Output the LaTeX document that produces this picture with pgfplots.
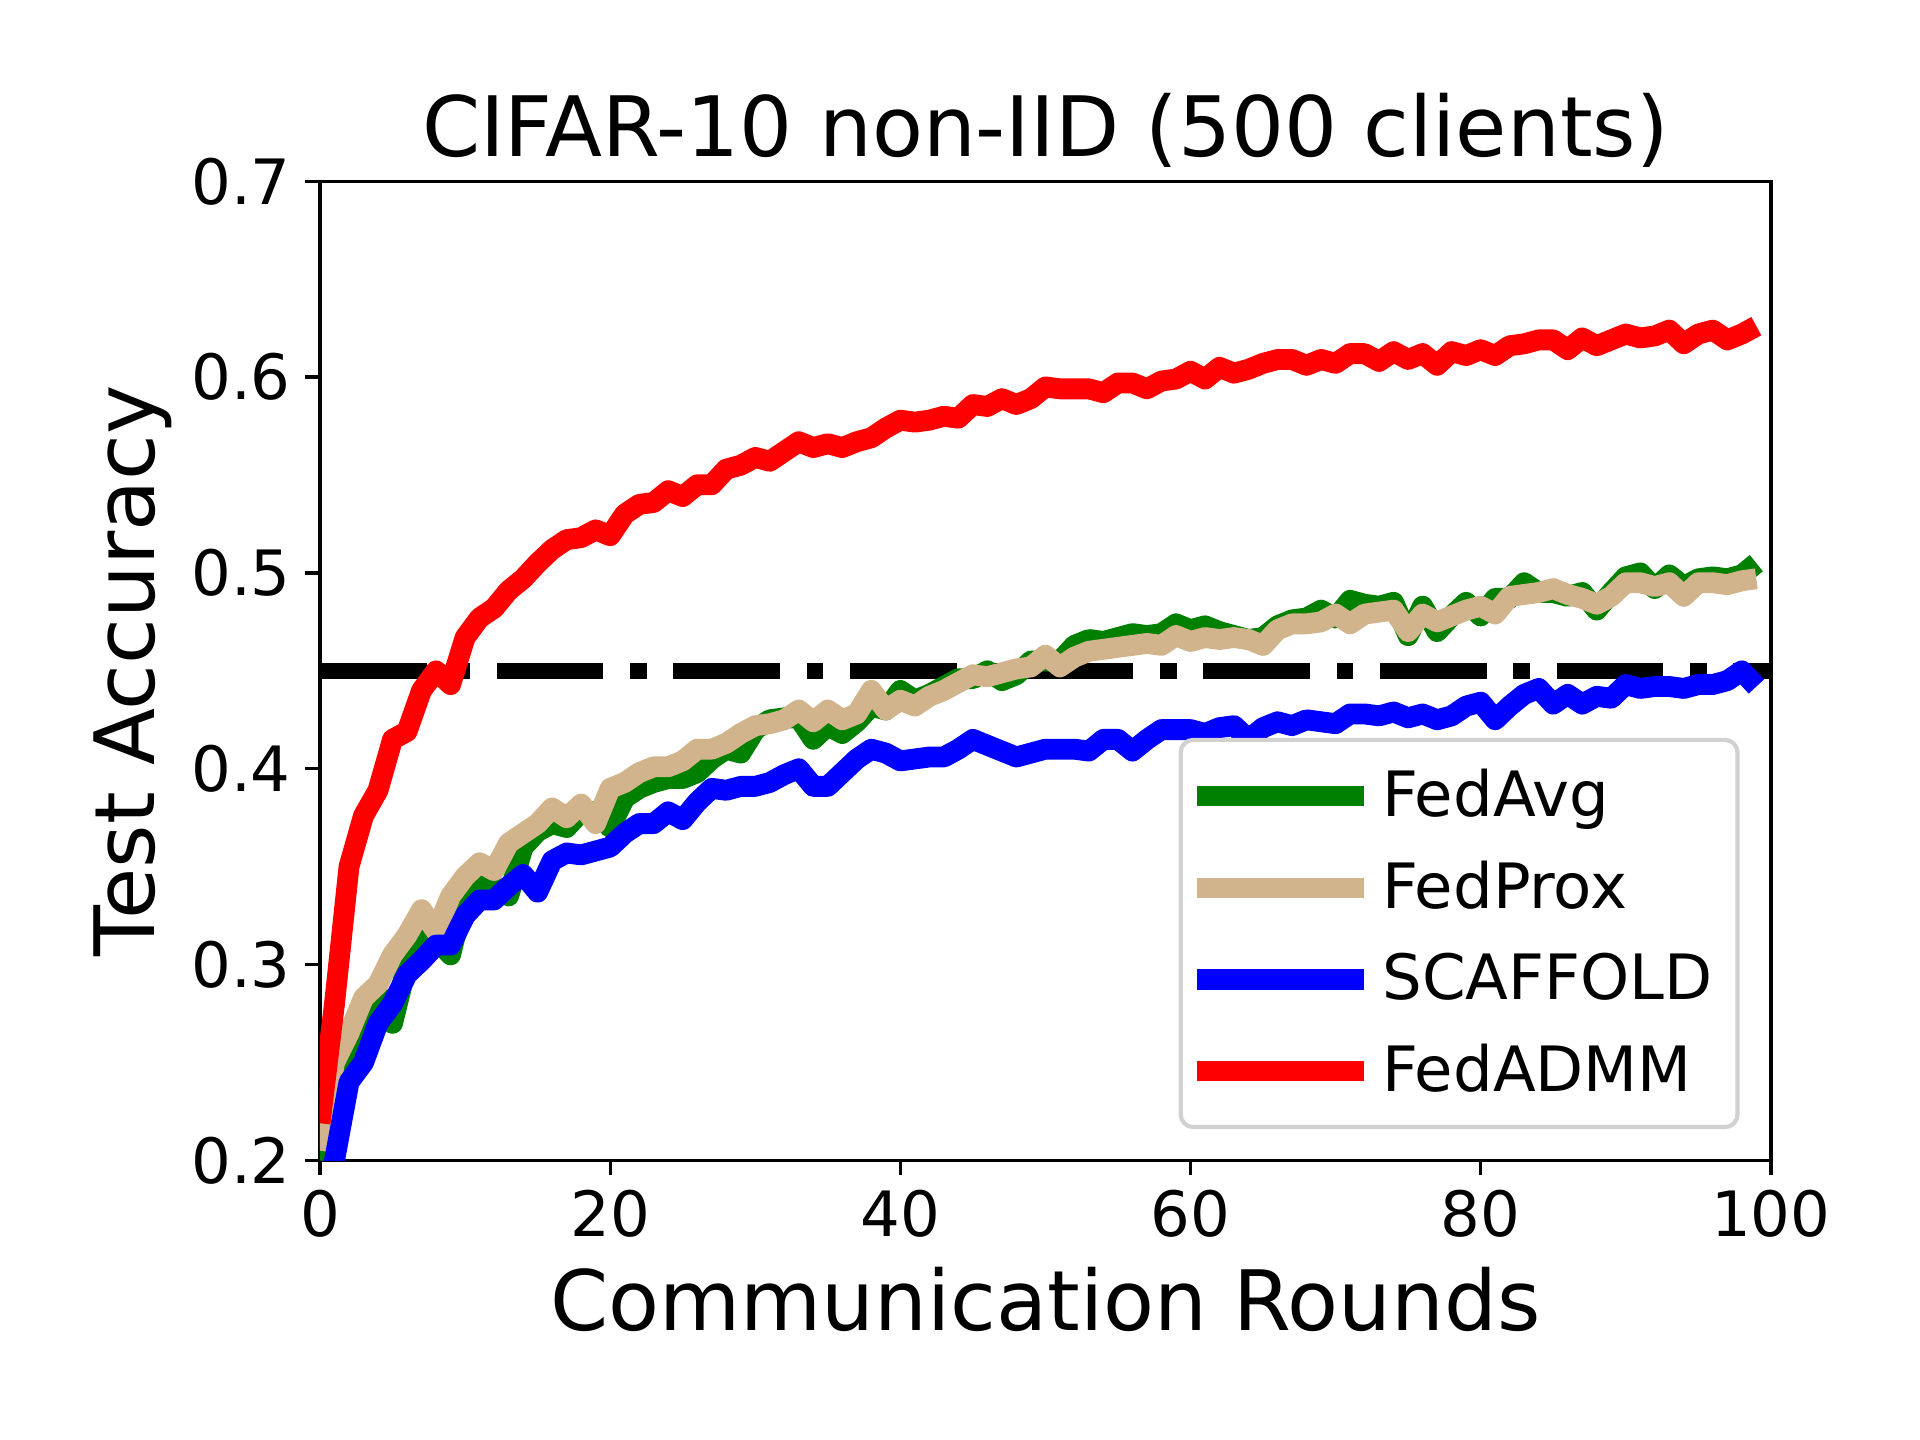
\documentclass[border=0pt]{standalone}
\usepackage{pgfplots}
\pgfplotsset{compat=1.18}
\usepackage{fontspec}
\setmainfont{DejaVu Sans}
\definecolor{mtan}{HTML}{D2B48C}
\definecolor{mgreen}{HTML}{008000}
\pgfplotstableread{
x avg prox scaf admm
0 0.200 0.205 0.180 0.219
1 0.240 0.250 0.200 0.280
2 0.260 0.265 0.240 0.350
3 0.275 0.283 0.250 0.376
4 0.285 0.290 0.270 0.389
5 0.270 0.305 0.280 0.415
6 0.300 0.315 0.295 0.419
7 0.318 0.328 0.302 0.440
8 0.313 0.317 0.310 0.450
9 0.305 0.335 0.310 0.443
10 0.335 0.345 0.325 0.467
11 0.345 0.352 0.333 0.477
12 0.340 0.348 0.333 0.482
13 0.335 0.362 0.340 0.491
14 0.360 0.367 0.346 0.497
15 0.368 0.372 0.337 0.505
16 0.372 0.380 0.353 0.512
17 0.370 0.375 0.357 0.517
18 0.378 0.382 0.356 0.518
19 0.378 0.372 0.358 0.522
20 0.370 0.390 0.360 0.519
21 0.385 0.393 0.367 0.530
22 0.390 0.398 0.372 0.535
23 0.393 0.401 0.372 0.536
24 0.395 0.401 0.378 0.542
25 0.395 0.404 0.374 0.539
26 0.398 0.410 0.383 0.545
27 0.405 0.410 0.390 0.545
28 0.410 0.413 0.389 0.553
29 0.408 0.418 0.391 0.555
30 0.420 0.422 0.391 0.559
31 0.425 0.423 0.393 0.557
32 0.426 0.425 0.397 0.562
33 0.426 0.430 0.400 0.567
34 0.415 0.424 0.391 0.564
35 0.422 0.430 0.391 0.566
36 0.418 0.425 0.398 0.564
37 0.424 0.428 0.405 0.567
38 0.432 0.440 0.410 0.569
39 0.430 0.430 0.408 0.574
40 0.440 0.435 0.404 0.578
41 0.435 0.432 0.405 0.577
42 0.438 0.437 0.406 0.578
43 0.442 0.440 0.406 0.580
44 0.446 0.444 0.410 0.579
45 0.446 0.448 0.415 0.586
46 0.450 0.447 0.412 0.585
47 0.445 0.449 0.409 0.589
48 0.448 0.451 0.406 0.586
49 0.455 0.452 0.408 0.589
50 0.455 0.458 0.410 0.595
51 0.455 0.452 0.410 0.594
52 0.463 0.457 0.410 0.594
53 0.466 0.460 0.409 0.594
54 0.465 0.461 0.415 0.592
55 0.467 0.462 0.415 0.597
56 0.469 0.463 0.409 0.597
57 0.468 0.464 0.415 0.594
58 0.469 0.463 0.420 0.598
59 0.474 0.468 0.420 0.599
60 0.471 0.465 0.420 0.603
61 0.473 0.467 0.418 0.599
62 0.470 0.466 0.421 0.605
63 0.468 0.467 0.422 0.602
64 0.466 0.466 0.415 0.604
65 0.467 0.463 0.421 0.607
66 0.473 0.471 0.424 0.609
67 0.476 0.474 0.422 0.609
68 0.477 0.474 0.425 0.606
69 0.481 0.475 0.424 0.609
70 0.477 0.479 0.423 0.607
71 0.486 0.474 0.428 0.612
72 0.484 0.479 0.428 0.612
73 0.483 0.480 0.427 0.608
74 0.485 0.481 0.429 0.613
75 0.468 0.470 0.426 0.609
76 0.483 0.479 0.428 0.612
77 0.470 0.475 0.425 0.606
78 0.478 0.478 0.427 0.613
79 0.485 0.481 0.432 0.611
80 0.478 0.483 0.434 0.614
81 0.487 0.479 0.425 0.611
82 0.487 0.488 0.432 0.616
83 0.495 0.489 0.438 0.617
84 0.490 0.490 0.441 0.619
85 0.490 0.492 0.433 0.619
86 0.488 0.489 0.438 0.614
87 0.490 0.487 0.433 0.620
88 0.481 0.484 0.437 0.616
89 0.490 0.488 0.436 0.619
90 0.498 0.495 0.443 0.622
91 0.500 0.495 0.441 0.620
92 0.492 0.493 0.442 0.621
93 0.499 0.495 0.442 0.624
94 0.493 0.488 0.441 0.617
95 0.497 0.495 0.443 0.622
96 0.498 0.495 0.443 0.624
97 0.497 0.494 0.445 0.619
98 0.499 0.496 0.450 0.622
99 0.505 0.497 0.442 0.626
}\datatable
\begin{document}
\begin{tikzpicture}
\path[use as bounding box] (0,0) rectangle (460.8pt,345.6pt);
\begin{axis}[
  at={(76.8pt,67.1pt)}, anchor=south west,
  scale only axis, width=348.2pt, height=235pt,
  xmin=0, xmax=100, ymin=0.2, ymax=0.7,
  xtick={0,20,40,60,80,100}, xticklabels={0,20,40,60,80,100},
  ytick={0.2,0.3,0.4,0.5,0.6,0.7}, yticklabels={0.2,0.3,0.4,0.5,0.6,0.7},
  xtick pos=bottom, ytick pos=left,
  tick align=outside, major tick length=3.5pt,
  every tick/.style={black, line width=0.8pt},
  axis line style={black, line width=0.8pt},
  ticklabel style={font=\fontsize{15}{18}\selectfont},
  title={CIFAR-10 non-IID (500 clients)},
  title style={font=\fontsize{20}{24}\selectfont, at={(axis description cs:0.5,1)}, anchor=base, yshift=0pt},
  xlabel={Communication Rounds},
  xlabel style={font=\fontsize{20}{24}\selectfont, at={([yshift=-40.8pt]axis description cs:0.5,0)}, anchor=base},
  ylabel={Test Accuracy},
  ylabel style={font=\fontsize{20}{24}\selectfont, at={([xshift=-39.6pt]axis description cs:0,0.5)}, anchor=base, rotate=0},
  legend cell align=left,
  legend style={at={([xshift=-7.5pt,yshift=7.5pt]axis description cs:1,0)}, anchor=south east,
    font=\fontsize{15}{18}\selectfont, draw=black!18, line width=1pt, rounded corners=3pt,
    fill=white, inner xsep=4pt, inner ysep=5pt, row sep=5.2pt,
    nodes={inner sep=2pt}},
  legend image code/.code={\path (0pt,0pt) -- (37.4pt,0pt); \draw[#1, overlay, line width=5pt, line cap=butt] (-2.6pt,0pt) -- (28pt,0pt);},
  clip=true,
]
\addplot[black, line width=4pt, dash pattern=on 25.6pt off 6.4pt on 4pt off 6.4pt, forget plot] coordinates {(0,0.45) (100,0.45)};
\addplot[mgreen, line width=5pt, line join=round] table[x=x, y=avg] {\datatable};
\addlegendentry{FedAvg}
\addplot[mtan, line width=5pt, line join=round] table[x=x, y=prox] {\datatable};
\addlegendentry{FedProx}
\addplot[blue, line width=5pt, line join=round] table[x=x, y=scaf] {\datatable};
\addlegendentry{SCAFFOLD}
\addplot[red, line width=5pt, line join=round] table[x=x, y=admm] {\datatable};
\addlegendentry{FedADMM}
\end{axis}
\end{tikzpicture}
\end{document}
